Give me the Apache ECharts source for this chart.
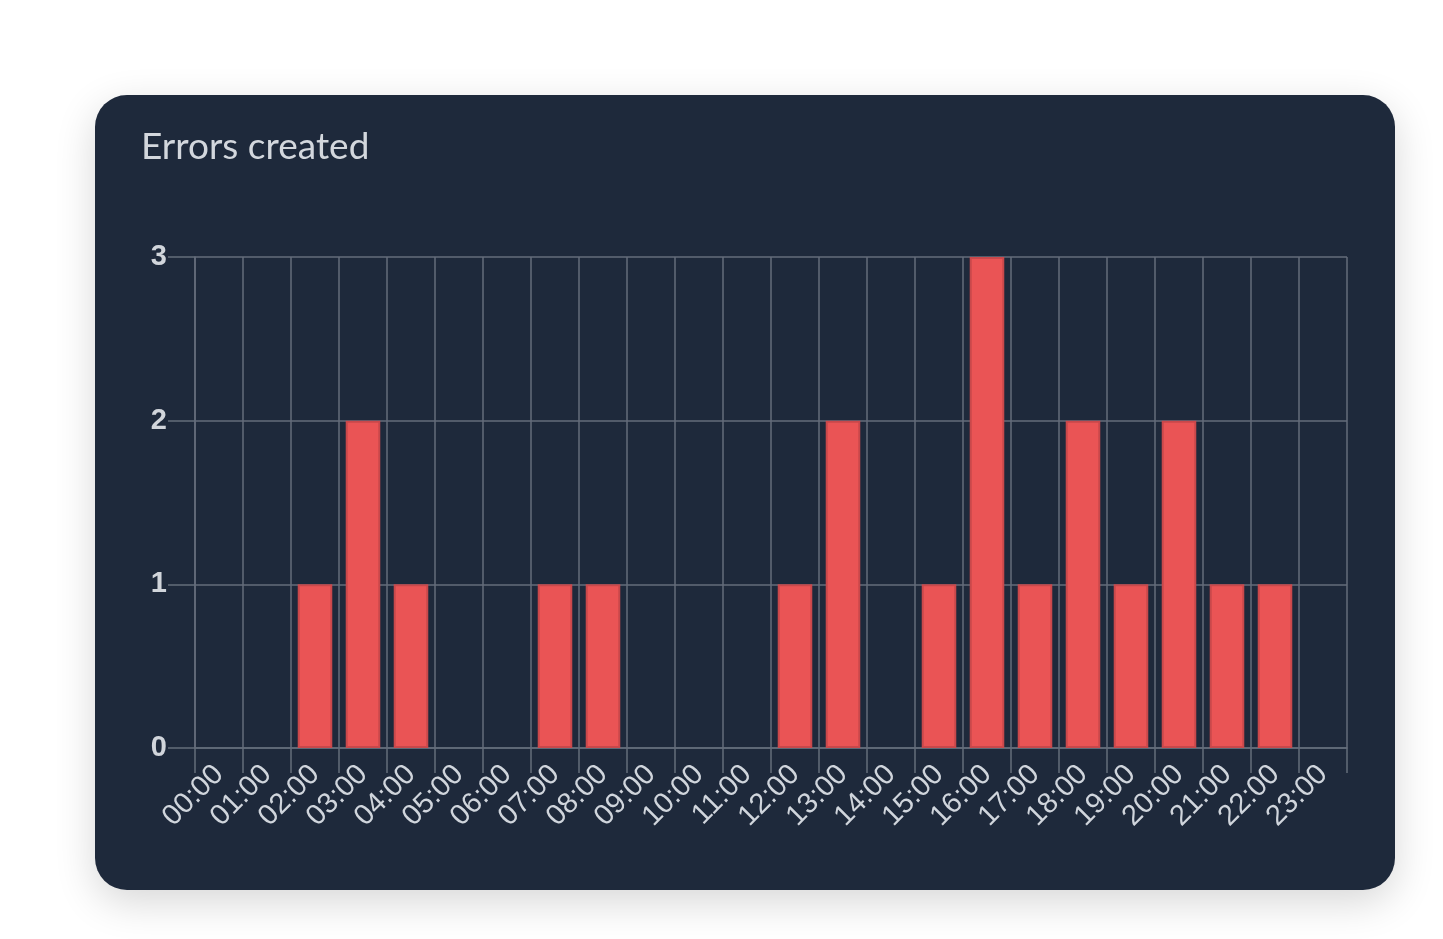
<!DOCTYPE html>
<html>
<head>
<meta charset="utf-8">
<script src="https://cdn.jsdelivr.net/npm/echarts@6/dist/echarts.min.js"></script>
<style>
  html, body { margin: 0; padding: 0; background: #ffffff; }
  #card {
    position: absolute; left: 95px; top: 95px; width: 1300px; height: 795px;
    background: #1e293b; border-radius: 32px; overflow: hidden;
    box-shadow: 0 12px 40px rgba(0, 0, 0, 0.16);
  }
  #chart { width: 1300px; height: 795px; }
</style>
</head>
<body>
<div id="card"><div id="chart"></div></div>
<script>
// hours of the day
var hours = ['00:00', '01:00', '02:00', '03:00', '04:00', '05:00', '06:00', '07:00',
  '08:00', '09:00', '10:00', '11:00', '12:00', '13:00', '14:00', '15:00',
  '16:00', '17:00', '18:00', '19:00', '20:00', '21:00', '22:00', '23:00'];
// errors per hour
var errors = [0, 0, 1, 2, 1, 0, 0, 1, 1, 0, 0, 0, 1, 2, 0, 1, 3, 1, 2, 1, 2, 1, 1, 0];
var yTicks = [0, 1, 2, 3];

var gridColor = '#646d7b';
var chart = echarts.init(document.getElementById('chart'));
chart.setOption({
  animation : false,
  title : {
    text : 'Errors created',
    left : 41,
    top : 29,
    textStyle : {
      fontFamily : 'Lato',
      fontSize : 37,
      fontWeight : 'normal',
      color : '#d3d7dd'
    }
  },
  grid : { left : 100, right : 48, top : 162, bottom : 142 },
  xAxis : {
    type : 'category',
    data : hours,
    boundaryGap : true,
    axisLine : { show : true, lineStyle : { color : gridColor, width : 1.5 } },
    axisTick : { show : true, interval : 0, length : 25, lineStyle : { color : gridColor, width : 1.5 } },
    splitLine : { show : true, interval : 0, lineStyle : { color : gridColor, width : 1.5 } },
    axisLabel : {
      interval : 0,
      rotate : 45,
      margin : 22,
      fontSize : 29,
      fontFamily : 'Liberation Sans',
      color : '#d0d5dc'
    }
  },
  yAxis : {
    type : 'value',
    min : yTicks[0],
    max : yTicks[yTicks.length - 1],
    interval : 1,
    axisLine : { show : true, lineStyle : { color : gridColor, width : 1.5 } },
    axisTick : { show : true, length : 27, lineStyle : { color : gridColor, width : 1.5 } },
    splitLine : { show : true, lineStyle : { color : gridColor, width : 1.5 } },
    axisLabel : {
      margin : 28,
      fontSize : 29,
      fontWeight : 'bold',
      fontFamily : 'Liberation Sans',
      color : '#d1d5db'
    }
  },
  series : [{
    type : 'bar',
    // zero hours get no border so no sliver is drawn
    data : errors.map(function(v) {
      return { value : v, itemStyle : { borderWidth : v ? 2 : 0 } };
    }),
    barWidth : '72%',
    itemStyle : { color : '#ea5455', borderColor : '#c9484b', borderWidth : 2 }
  }]
});
</script>
</body>
</html>
